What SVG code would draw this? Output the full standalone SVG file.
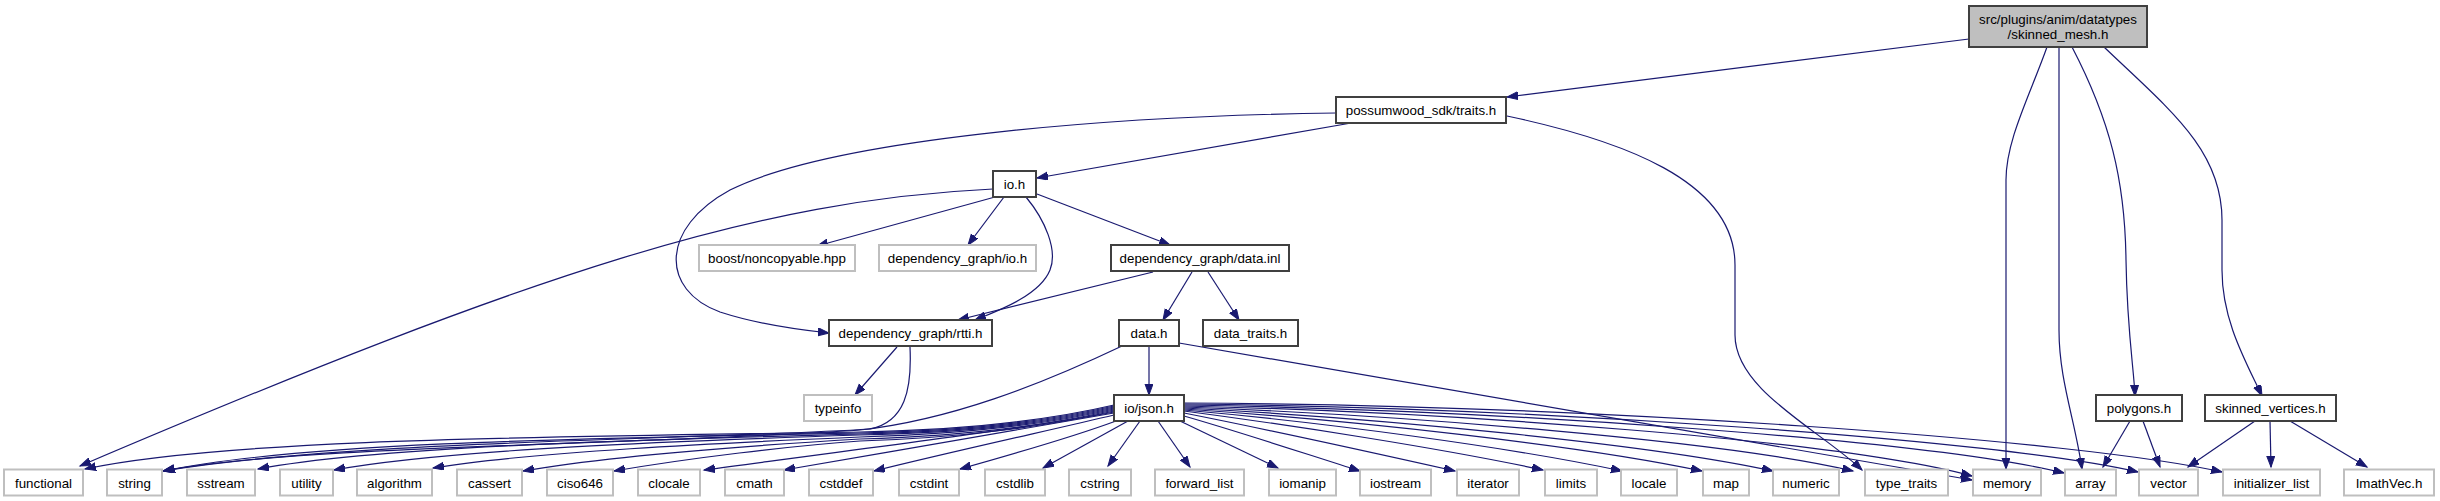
<svg xmlns="http://www.w3.org/2000/svg" width="2440" height="501" viewBox="0 0 2440 501">
<defs>
<marker id="ah" markerUnits="userSpaceOnUse" markerWidth="13" markerHeight="10" refX="11" refY="4" orient="auto">
<path d="M0,0 L11,4 L0,8 z" fill="#191970" stroke="#191970" stroke-width="1"/>
</marker>
<style>
.n{fill:#ffffff;stroke:#404040;stroke-width:2}
.m{fill:#bfbfbf;stroke:#404040;stroke-width:2}
.u{fill:#ffffff;stroke:#bfbfbf;stroke-width:2}
.e path{fill:none;stroke:#191970;stroke-width:1.2;marker-end:url(#ah)}
text{font-family:"Liberation Sans",Arial,Helvetica,sans-serif;font-size:13.33px;fill:#000;text-anchor:middle}
</style>
</defs>
<rect width="2440" height="501" fill="#ffffff"/>
<g id="edges" class="e">
<path d="M1969,39 L1507,97"/>
<path d="M2047,47 C2030,95 2006,140 2006,180 L2006,469"/>
<path d="M2059,47 L2059,330 C2059,380 2075,420 2082,469"/>
<path d="M2072,47 C2110,120 2125,180 2126,260 C2127,330 2134,370 2135,396"/>
<path d="M2104,47 C2170,110 2222,150 2222,220 L2222,270 C2222,320 2245,360 2262,396"/>
<path d="M1357,122 L1037,178"/>
<path d="M1336,113 C1100,116 830,140 730,190 C660,228 660,290 720,312 C760,325 800,330 829,333"/>
<path d="M1507,116 C1620,140 1735,180 1735,265 L1735,335 C1735,390 1820,430 1862,470"/>
<path d="M993,189 C760,200 540,270 80,466"/>
<path d="M995,197 L817,246"/>
<path d="M1004,197 L968,245"/>
<path d="M1026,197 C1045,220 1058,250 1050,270 C1040,295 1000,310 975,320"/>
<path d="M1037,194 L1170,245"/>
<path d="M1153,272 L958,320"/>
<path d="M1192,272 L1163,320"/>
<path d="M1208,272 L1239,320"/>
<path d="M897,347 L855,395"/>
<path d="M910,347 C912,390 905,422 870,429 C700,440 350,440 163,471"/>
<path d="M1149,346 L1149,395"/>
<path d="M1122,346 C1040,385 950,420 860,430 C650,445 300,445 163,471"/>
<path d="M1179,343 L1972,480"/>
<path d="M1114,405 C1050,420 960,430 860,432 C560,437 230,438 85,469"/>
<path d="M1114,406 C1050,421 960,431 860,433 C600,438 300,442 164,471"/>
<path d="M1114,407 C1050,422 960,432 860,434 C640,440 380,446 258,469"/>
<path d="M1114,408 C1050,423 960,433 860,435 C680,441 450,449 334,470"/>
<path d="M1114,409 C1050,424 960,434 860,437 C720,443 530,452 433,468"/>
<path d="M1114,410 C1050,425 960,436 860,439 C760,445 610,456 523,471"/>
<path d="M1114,411 C1050,426 960,438 860,441 C790,446 690,458 614,471"/>
<path d="M1114,412 C1040,426 900,444 704,470"/>
<path d="M1114,413 C1050,425 900,450 784,470"/>
<path d="M1114,415 C1060,428 950,452 874,471"/>
<path d="M1116,421 C1070,438 1010,455 960,469"/>
<path d="M1128,421 L1043,468"/>
<path d="M1140,421 L1108,466"/>
<path d="M1158,421 L1190,467"/>
<path d="M1180,421 L1278,468"/>
<path d="M1184,416 C1240,432 1300,452 1360,471"/>
<path d="M1184,413 C1260,428 1370,452 1455,471"/>
<path d="M1184,411 C1290,425 1440,448 1543,470"/>
<path d="M1184,410 C1320,422 1510,447 1622,471"/>
<path d="M1184,409 C1350,420 1580,445 1702,471"/>
<path d="M1184,408 C1380,418 1650,444 1773,471"/>
<path d="M1184,407 C1400,415 1720,440 1853,471"/>
<path d="M1184,406 C1450,412 1840,440 1972,476"/>
<path d="M1184,405 C1500,410 1930,440 2064,473"/>
<path d="M1184,404 C1550,408 2000,440 2138,472"/>
<path d="M1184,403 C1600,405 2080,440 2222,472"/>
<path d="M2130,421 L2103,467"/>
<path d="M2143,421 L2160,467"/>
<path d="M2255,421 L2188,467"/>
<path d="M2270,421 L2271,467"/>
<path d="M2290,421 L2367,467"/>
</g>
<g id="skinned_mesh"><rect class="m" x="1969" y="6" width="178" height="41"/><text x="2058" y="24">src/plugins/anim/datatypes</text><text x="2058" y="39">/skinned_mesh.h</text></g>
<g id="traits"><rect class="n" x="1336" y="97" width="170" height="26"/><text x="1421" y="115">possumwood_sdk/traits.h</text></g>
<g id="io_h"><rect class="n" x="993" y="171" width="43" height="26"/><text x="1014.5" y="189">io.h</text></g>
<g id="boost_noncopyable"><rect class="u" x="699" y="245" width="156" height="26"/><text x="777" y="263">boost/noncopyable.hpp</text></g>
<g id="dg_io"><rect class="u" x="879" y="245" width="157" height="26"/><text x="957.5" y="263">dependency_graph/io.h</text></g>
<g id="dg_data_inl"><rect class="n" x="1111" y="245" width="178" height="26"/><text x="1200" y="263">dependency_graph/data.inl</text></g>
<g id="dg_rtti"><rect class="n" x="829" y="320" width="163" height="26"/><text x="910.5" y="338">dependency_graph/rtti.h</text></g>
<g id="data_h"><rect class="n" x="1119" y="320" width="60" height="26"/><text x="1149" y="338">data.h</text></g>
<g id="data_traits"><rect class="n" x="1203" y="320" width="95" height="26"/><text x="1250.5" y="338">data_traits.h</text></g>
<g id="typeinfo"><rect class="u" x="804" y="395" width="68" height="26"/><text x="838" y="413">typeinfo</text></g>
<g id="io_json"><rect class="n" x="1114" y="395" width="70" height="26"/><text x="1149" y="413">io/json.h</text></g>
<g id="polygons"><rect class="n" x="2096" y="395" width="86" height="26"/><text x="2139" y="413">polygons.h</text></g>
<g id="skinned_vertices"><rect class="n" x="2205" y="395" width="131" height="26"/><text x="2270.5" y="413">skinned_vertices.h</text></g>
<g id="functional"><rect class="u" x="4" y="469.5" width="79" height="26"/><text x="43.5" y="487.5">functional</text></g>
<g id="string"><rect class="u" x="107" y="469.5" width="55" height="26"/><text x="134.5" y="487.5">string</text></g>
<g id="sstream"><rect class="u" x="187" y="469.5" width="68" height="26"/><text x="221" y="487.5">sstream</text></g>
<g id="utility"><rect class="u" x="280" y="469.5" width="53" height="26"/><text x="306.5" y="487.5">utility</text></g>
<g id="algorithm"><rect class="u" x="357" y="469.5" width="75" height="26"/><text x="394.5" y="487.5">algorithm</text></g>
<g id="cassert"><rect class="u" x="457" y="469.5" width="65" height="26"/><text x="489.5" y="487.5">cassert</text></g>
<g id="ciso646"><rect class="u" x="547" y="469.5" width="66" height="26"/><text x="580" y="487.5">ciso646</text></g>
<g id="clocale"><rect class="u" x="638" y="469.5" width="62" height="26"/><text x="669" y="487.5">clocale</text></g>
<g id="cmath"><rect class="u" x="725" y="469.5" width="59" height="26"/><text x="754.5" y="487.5">cmath</text></g>
<g id="cstddef"><rect class="u" x="809" y="469.5" width="64" height="26"/><text x="841" y="487.5">cstddef</text></g>
<g id="cstdint"><rect class="u" x="899" y="469.5" width="60" height="26"/><text x="929" y="487.5">cstdint</text></g>
<g id="cstdlib"><rect class="u" x="985" y="469.5" width="60" height="26"/><text x="1015" y="487.5">cstdlib</text></g>
<g id="cstring"><rect class="u" x="1069" y="469.5" width="62" height="26"/><text x="1100" y="487.5">cstring</text></g>
<g id="forward_list"><rect class="u" x="1155" y="469.5" width="89" height="26"/><text x="1199.5" y="487.5">forward_list</text></g>
<g id="iomanip"><rect class="u" x="1269" y="469.5" width="67" height="26"/><text x="1302.5" y="487.5">iomanip</text></g>
<g id="iostream"><rect class="u" x="1360" y="469.5" width="71" height="26"/><text x="1395.5" y="487.5">iostream</text></g>
<g id="iterator"><rect class="u" x="1457" y="469.5" width="62" height="26"/><text x="1488" y="487.5">iterator</text></g>
<g id="limits"><rect class="u" x="1545" y="469.5" width="52" height="26"/><text x="1571" y="487.5">limits</text></g>
<g id="locale"><rect class="u" x="1621" y="469.5" width="56" height="26"/><text x="1649" y="487.5">locale</text></g>
<g id="map"><rect class="u" x="1703" y="469.5" width="46" height="26"/><text x="1726" y="487.5">map</text></g>
<g id="numeric"><rect class="u" x="1773" y="469.5" width="66" height="26"/><text x="1806" y="487.5">numeric</text></g>
<g id="type_traits"><rect class="u" x="1865" y="469.5" width="83" height="26"/><text x="1906.5" y="487.5">type_traits</text></g>
<g id="memory"><rect class="u" x="1973" y="469.5" width="68" height="26"/><text x="2007" y="487.5">memory</text></g>
<g id="array"><rect class="u" x="2065" y="469.5" width="51" height="26"/><text x="2090.5" y="487.5">array</text></g>
<g id="vector"><rect class="u" x="2139" y="469.5" width="59" height="26"/><text x="2168.5" y="487.5">vector</text></g>
<g id="initializer_list"><rect class="u" x="2223" y="469.5" width="97" height="26"/><text x="2271.5" y="487.5">initializer_list</text></g>
<g id="ImathVec"><rect class="u" x="2344" y="469.5" width="90" height="26"/><text x="2389" y="487.5">ImathVec.h</text></g>
</svg>
